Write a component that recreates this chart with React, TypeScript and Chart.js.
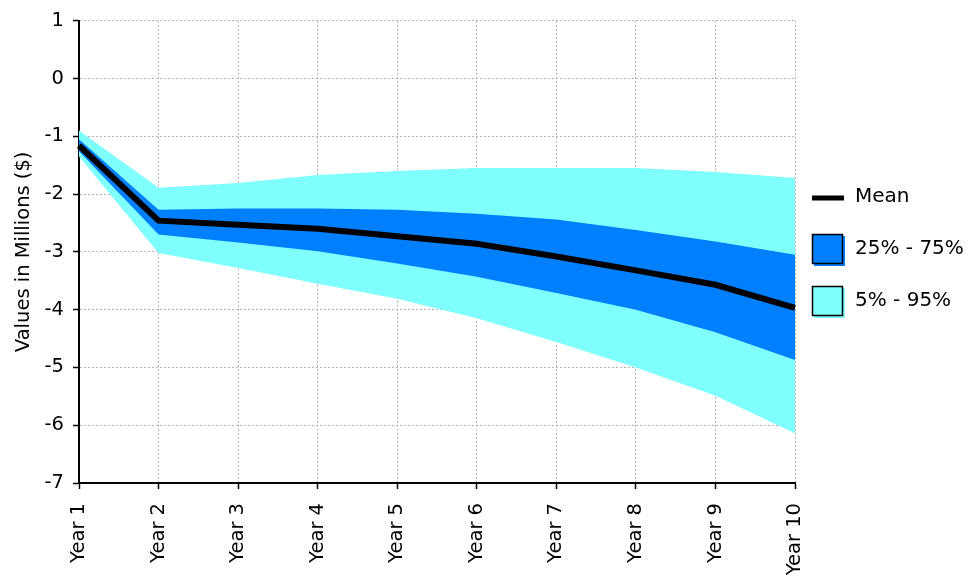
import React, { useEffect, useRef } from "react";
import { Chart, registerables } from "chart.js";

Chart.register(...registerables);

const categories = ["Year 1", "Year 2", "Year 3", "Year 4", "Year 5", "Year 6", "Year 7", "Year 8", "Year 9", "Year 10"];
const meanValues = [-1.16, -2.46, -2.53, -2.6, -2.73, -2.86, -3.08, -3.32, -3.57, -3.97];
const p75Values = [-1.05, -2.27, -2.25, -2.25, -2.27, -2.34, -2.44, -2.62, -2.82, -3.05];
const p25Values = [-1.26, -2.7, -2.84, -2.99, -3.2, -3.43, -3.71, -4.0, -4.39, -4.87];
const p95Values = [-0.9, -1.89, -1.81, -1.67, -1.6, -1.55, -1.55, -1.55, -1.62, -1.72];
const p5Values = [-1.35, -3.02, -3.28, -3.55, -3.81, -4.15, -4.56, -5.0, -5.49, -6.14];
const yTicks = [1, 0, -1, -2, -3, -4, -5, -6, -7];
const legendLabels = ["Mean", "25% - 75%", "5% - 95%"];

const DARK = "#0080FF";
const LIGHT = "#80FFFF";
const FONT = "'DejaVu Sans', Verdana, sans-serif";
const FS = 19.5;

const legendPlugin = {
  id: "customLegend",
  afterDraw(chart: any) {
    const ctx = chart.ctx;
    const x0 = chart.chartArea.right + 17;
    ctx.save();
    ctx.font = `20px ${FONT}`;
    ctx.fillStyle = "#000";
    ctx.textBaseline = "middle";
    ctx.textAlign = "left";
    ctx.strokeStyle = "#000";
    ctx.lineWidth = 5;
    ctx.beginPath();
    ctx.moveTo(x0, 198);
    ctx.lineTo(x0 + 32, 198);
    ctx.stroke();
    ctx.fillText(legendLabels[0], x0 + 43, 197);
    const boxes = [
      { y: 234, color: DARK, label: legendLabels[1] },
      { y: 286, color: LIGHT, label: legendLabels[2] },
    ];
    for (const b of boxes) {
      ctx.fillStyle = b.color;
      ctx.fillRect(x0 + 2, b.y + 2, 31, 30);
      ctx.fillRect(x0, b.y, 31, 30);
      ctx.strokeStyle = "#000";
      ctx.lineWidth = 1.5;
      ctx.strokeRect(x0 + 0.5, b.y + 0.5, 30, 29);
      ctx.fillStyle = "#000";
      ctx.fillText(b.label, x0 + 43, b.y + 15);
    }
    ctx.restore();
  },
};

export default function App() {
  const ref = useRef<HTMLCanvasElement | null>(null);
  useEffect(() => {
    document.body.style.margin = "0";
    if (!ref.current) return;
    Chart.defaults.font.family = FONT;
    Chart.defaults.font.size = FS;
    Chart.defaults.color = "#000";
    const lineBase = { pointRadius: 0, borderWidth: 0, tension: 0 };
    const gridOpts: any = { color: "#b4b4b4", lineWidth: 1, tickColor: "#000", tickLength: 6, tickBorderDash: [], tickWidth: 1.5 };
    const borderOpts: any = { color: "#000", width: 2, dash: [2, 2] };
    const chart = new Chart(ref.current, {
      type: "line",
      data: {
        labels: categories,
        datasets: [
          { label: "Mean", data: meanValues, borderColor: "#000", borderWidth: 6, pointRadius: 0, fill: false, tension: 0 },
          { label: "75%", data: p75Values, ...lineBase, borderColor: DARK, backgroundColor: DARK, fill: "+1" },
          { label: "25%", data: p25Values, ...lineBase, borderColor: DARK, fill: false },
          { label: "95%", data: p95Values, ...lineBase, borderColor: LIGHT, backgroundColor: LIGHT, fill: "+1" },
          { label: "5%", data: p5Values, ...lineBase, borderColor: LIGHT, fill: false },
        ],
      } as any,
      options: {
        responsive: false,
        animation: false,
        layout: { padding: { top: 16, right: 177, left: 0, bottom: 0 } },
        plugins: { legend: { display: false }, tooltip: { enabled: false } },
        scales: {
          x: {
            type: "category",
            offset: false,
            z: 1,
            afterFit: (s: any) => { s.height = 96; },
            grid: gridOpts,
            border: borderOpts,
            ticks: { minRotation: 90, maxRotation: 90, autoSkip: false, padding: 14, font: { size: FS }, color: "#000" },
          },
          y: {
            min: -7,
            max: 1,
            z: 1,
            afterFit: (s: any) => { s.width = 79; },
            afterBuildTicks: (s: any) => { s.ticks = yTicks.map((v) => ({ value: v })); },
            grid: gridOpts,
            border: borderOpts,
            ticks: { stepSize: 1, padding: 9, font: { size: FS }, color: "#000" },
            title: { display: true, text: "Values in Millions ($)", font: { size: 19.5 }, color: "#000", padding: { top: 12, bottom: 0 } },
          },
        },
      },
      plugins: [legendPlugin],
    });
    return () => chart.destroy();
  }, []);
  return (
    <div style={{ position: "absolute", left: 0, top: 0, width: 972, height: 579 }}>
      <canvas ref={ref} width={972} height={579} style={{ width: 972, height: 579 }} />
    </div>
  );
}
